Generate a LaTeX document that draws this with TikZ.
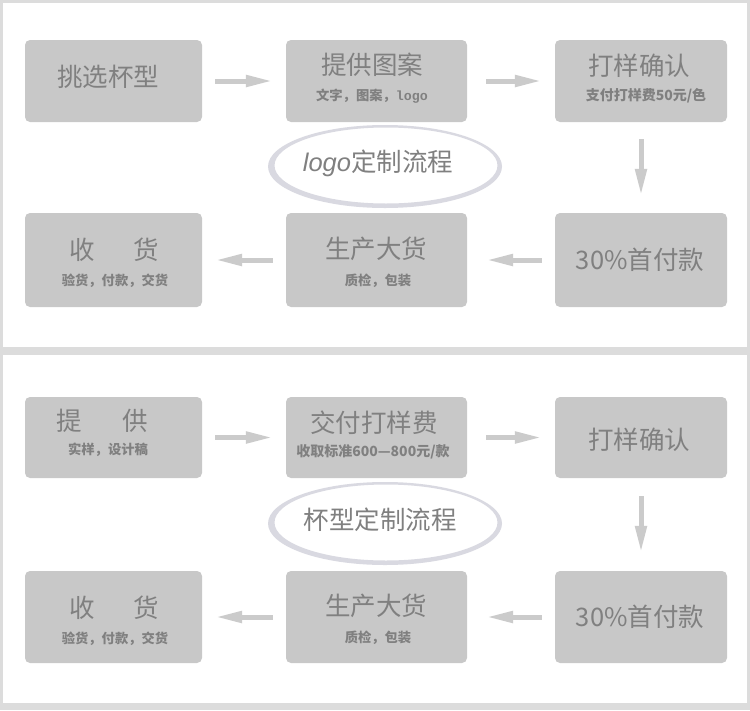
\documentclass[tikz,border=0pt]{standalone}
\usepackage{fontspec}
\newfontfamily\cjk{Noto Sans CJK SC}
\newfontfamily\latit{Liberation Sans}
\newfontfamily\mono{Liberation Mono}
\usetikzlibrary{arrows.meta}
\definecolor{bgc}{HTML}{DCDCDC}
\definecolor{boxc}{HTML}{C8C8C8}
\definecolor{txtc}{HTML}{808080}
\definecolor{arrc}{HTML}{CBCBCB}
\definecolor{ringc}{HTML}{D9D9E1}
\begin{document}
\begin{tikzpicture}[x=1pt,y=-1pt,
 stepbox/.style={fill=boxc, rounded corners=5pt, draw=none, inner sep=0pt},
 title/.style={text=txtc, font=\cjk\fontsize{25.5}{26}\selectfont, inner sep=0pt},
 sub/.style={text=txtc, font=\cjk\bfseries\fontsize{13.3}{14}\selectfont, inner sep=0pt},
 subd/.style={text=txtc, font=\cjk\bfseries\fontsize{14}{15}\selectfont, inner sep=0pt},
 flow/.style={draw=arrc, line width=5pt, -{Triangle[length=27pt,width=11pt]}},
]
\useasboundingbox (0,0) rectangle (750,710);
\fill[bgc] (0,0) rectangle (750,710);
\fill[white] (3,3) rectangle (747,347);
\fill[white] (3,355) rectangle (747,703);

% top panel boxes
\node[stepbox, minimum width=177pt, minimum height=82pt] (b1) at (113.5,81) {};
\node[stepbox, minimum width=181pt, minimum height=82pt] (b2) at (376.5,81) {};
\node[stepbox, minimum width=172pt, minimum height=82pt] (b3) at (641,81) {};
\node[stepbox, minimum width=177pt, minimum height=94pt] (b4) at (113.5,260) {};
\node[stepbox, minimum width=181pt, minimum height=94pt] (b5) at (376.5,260) {};
\node[stepbox, minimum width=172pt, minimum height=94pt] (b6) at (641,260) {};

% bottom panel boxes
\node[stepbox, minimum width=177pt, minimum height=81pt] (c1) at (113.5,437.5) {};
\node[stepbox, minimum width=181pt, minimum height=81pt] (c2) at (376.5,437.5) {};
\node[stepbox, minimum width=172pt, minimum height=81pt] (c3) at (641,437.5) {};
\node[stepbox, minimum width=177pt, minimum height=92pt] (c4) at (113.5,617) {};
\node[stepbox, minimum width=181pt, minimum height=92pt] (c5) at (376.5,617) {};
\node[stepbox, minimum width=172pt, minimum height=92pt] (c6) at (641,617) {};

% rings
\fill[ringc, even odd rule] (385,166.5) ellipse [x radius=117, y radius=41.5]
  (386,165.5) ellipse [x radius=111.5, y radius=38];
\fill[ringc, even odd rule] (385,523.5) ellipse [x radius=117, y radius=41.5]
  (386,522.5) ellipse [x radius=111.5, y radius=38];

% connectors top
\draw[flow, shorten <=13pt, shorten >=13pt] (b1) -- (b2);
\draw[flow, shorten <=19pt, shorten >=13pt] (b2) -- (b3);
\draw[flow, shorten <=17pt, shorten >=17pt] (b3) -- (b6);
\draw[flow, shorten <=13pt, shorten >=19pt] (b6) -- (b5);
\draw[flow, shorten <=13pt, shorten >=13pt] (b5) -- (b4);
% connectors bottom
\draw[flow, shorten <=13pt, shorten >=13pt] (c1) -- (c2);
\draw[flow, shorten <=19pt, shorten >=13pt] (c2) -- (c3);
\draw[flow, shorten <=18pt, shorten >=18pt] (c3) -- (c6);
\draw[flow, shorten <=13pt, shorten >=19pt] (c6) -- (c5);
\draw[flow, shorten <=13pt, shorten >=13pt] (c5) -- (c4);

% texts top
\node[title] (t1t) at (108,77) {挑选杯型};
\node[title] (t2t) at (372,65) {提供图案};
\node[sub] (t2s) at (372,96) {文字，图案，{\mono logo}};
\node[title] (t3t) at (639,66) {打样确认};
\node[subd] (t3s) at (646,96) {支付打样费50元/色};
\node[title] (t4t) at (114,250) {收\hspace{39pt}货};
\node[sub] (t4s) at (115,281) {验货，付款，交货};
\node[title] (t5t) at (376,249) {生产大货};
\node[sub] (t5s) at (378,281) {质检，包装};
\node[title] (t6t) at (640,260) {30\%首付款};
\node[title] (lt) at (378,163) {{\latit\itshape logo}定制流程};

% texts bottom
\node[title] (u1t) at (102,421) {提\hspace{41pt}供};
\node[sub] (u1s) at (108,450) {实样，设计稿};
\node[title] (u2t) at (374,423) {交付打样费};
\node[subd] (u2s) at (373,452) {收取标准600—800元/款};
\node[title] (u3t) at (639,440) {打样确认};
\node[title] (bt) at (380,520) {杯型定制流程};
\node[title] (u4t) at (114,608) {收\hspace{39pt}货};
\node[sub] (u4s) at (115,639) {验货，付款，交货};
\node[title] (u5t) at (376,606) {生产大货};
\node[sub] (u5s) at (378,638) {质检，包装};
\node[title] (u6t) at (640,617) {30\%首付款};
\end{tikzpicture}
\end{document}
